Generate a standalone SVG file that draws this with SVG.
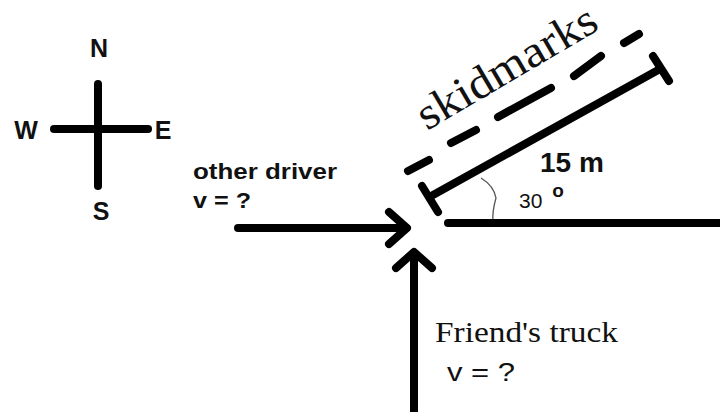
<svg xmlns="http://www.w3.org/2000/svg" width="720" height="412" viewBox="0 0 720 412">
<style>
.ln{stroke:#000;stroke-width:8;stroke-linecap:round;fill:none;stroke-linejoin:round}
.sans{font-family:"Liberation Sans",Arial,sans-serif;fill:#111}
.b{font-weight:bold}
.serif{font-family:"Liberation Serif","DejaVu Serif",serif;fill:#111}
</style>
<rect width="720" height="412" fill="#fff"/>
<g id="compass">
<line class="ln" x1="98" y1="84" x2="98" y2="186" stroke-width="7"/>
<line class="ln" x1="54" y1="129" x2="148" y2="129" stroke-width="7"/>
<text class="sans b" x="99" y="57" font-size="25" text-anchor="middle">N</text>
<text class="sans b" x="26" y="139" font-size="25" text-anchor="middle">W</text>
<text class="sans b" x="163" y="139" font-size="25" text-anchor="middle">E</text>
<text class="sans b" x="101" y="220" font-size="25" text-anchor="middle">S</text>
</g>
<g id="other-driver">
<text class="sans b" x="193" y="179" font-size="22" textLength="144" lengthAdjust="spacingAndGlyphs">other driver</text>
<text class="sans b" x="193" y="208" font-size="22" textLength="58" lengthAdjust="spacingAndGlyphs">v = ?</text>
</g>
<g id="friends-truck">
<text class="serif" x="435" y="342" font-size="30" textLength="183" lengthAdjust="spacingAndGlyphs">Friend's truck</text>
<text class="sans" x="447" y="381" font-size="25" textLength="68" lengthAdjust="spacingAndGlyphs">v =  ?</text>
</g>
<g id="skidmarks">
<line class="ln" x1="433" y1="195" x2="660" y2="69"/>
<line class="ln" x1="422" y1="186" x2="438" y2="212"/>
<line class="ln" x1="653" y1="56" x2="669" y2="81"/>
<g class="ln">
<line x1="408" y1="171" x2="429" y2="160"/>
<line x1="451" y1="143" x2="476" y2="130"/>
<line x1="498" y1="117" x2="551" y2="88"/>
<line x1="574" y1="76" x2="601" y2="56"/>
<line x1="624" y1="43" x2="639" y2="34"/>
</g>
<text class="serif" font-size="45" transform="translate(427,131) rotate(-30.5)" textLength="202" lengthAdjust="spacingAndGlyphs">skidmarks</text>
<text class="sans b" x="540" y="172" font-size="28">15 m</text>
<text class="sans" x="519" y="208" font-size="21">30</text>
<text class="sans b" x="558" y="197" font-size="19" text-anchor="middle">o</text>
<path d="M481,178 Q494,186 496,198 Q492,212 493,222" fill="none" stroke="#555" stroke-width="1.3"/>
</g>
<g id="connectors">
<line class="ln" x1="448" y1="223" x2="720" y2="223"/>
<line class="ln" x1="238" y1="228" x2="406" y2="228"/>
<polyline class="ln" points="389,212 407,228 389,244"/>
<line class="ln" x1="414" y1="412" x2="414" y2="254"/>
<polyline class="ln" points="396,268 414,252 432,268"/>
</g>
</svg>
